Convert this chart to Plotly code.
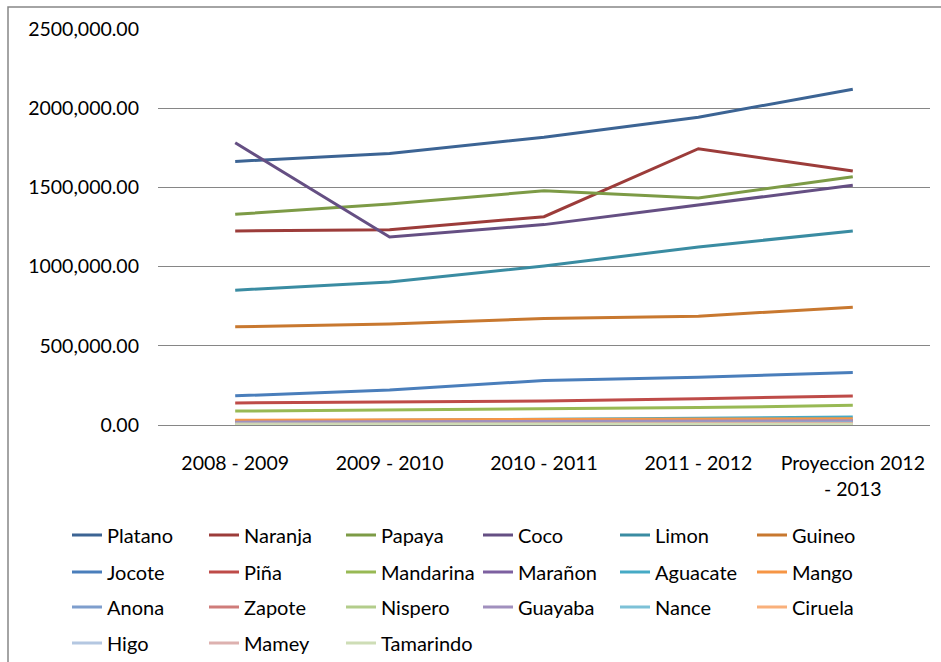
import plotly.graph_objects as go

periods = ["2008 - 2009", "2009 - 2010", "2010 - 2011", "2011 - 2012", "Proyeccion 2012<br>- 2013"]

Platano = [1664000, 1714000, 1817000, 1943000, 2120000]
Naranja = [1225000, 1233000, 1315000, 1744000, 1603000]
Papaya = [1330000, 1395000, 1479000, 1433000, 1567000]
Coco = [1782000, 1187000, 1265000, 1391000, 1513000]
Limon = [851000, 903000, 1004000, 1124000, 1225000]
Guineo = [620000, 637000, 672000, 687000, 744000]
Jocote = [184000, 221000, 281000, 302000, 331000]
Pina = [139000, 145000, 152000, 166000, 183000]
Mandarina = [88000, 95000, 101000, 110000, 124000]
Maranon = [20000, 22000, 24000, 26000, 28000]
Aguacate = [25000, 30000, 35000, 42000, 50000]
Mango = [30000, 32000, 34000, 37000, 40000]
Anona = [10000, 11000, 12000, 13000, 14000]
Zapote = [15000, 16000, 17000, 18000, 20000]
Nispero = [3000, 3000, 4000, 4000, 5000]
Guayaba = [18000, 20000, 22000, 24000, 27000]
Nance = [8000, 9000, 10000, 11000, 12000]
Ciruela = [5000, 6000, 6000, 7000, 8000]
Higo = [1000, 1000, 1000, 1000, 1000]
Mamey = [4000, 4000, 5000, 5000, 6000]
Tamarindo = [2000, 2000, 2000, 3000, 3000]

series_names = ["Platano", "Naranja", "Papaya", "Coco", "Limon", "Guineo",
                "Jocote", "Piña", "Mandarina", "Marañon", "Aguacate", "Mango",
                "Anona", "Zapote", "Nispero", "Guayaba", "Nance", "Ciruela",
                "Higo", "Mamey", "Tamarindo"]
series_values = [Platano, Naranja, Papaya, Coco, Limon, Guineo,
                 Jocote, Pina, Mandarina, Maranon, Aguacate, Mango,
                 Anona, Zapote, Nispero, Guayaba, Nance, Ciruela,
                 Higo, Mamey, Tamarindo]
colors = ["#3C6494", "#9C3C3A", "#7D9B46", "#654F83", "#3A8CA2", "#C8782F",
          "#4A7EBB", "#BE4B48", "#98B954", "#7D60A0", "#46AAC5", "#F69545",
          "#7E9ECD", "#CF7C7A", "#B3CD8B", "#A190BE", "#7DC1D7", "#F9B07B",
          "#B4C7E1", "#DDB1AF", "#CEDDB6"]

tick_vals = [0, 500000, 1000000, 1500000, 2000000, 2500000]
tick_text = ["0.00", "500,000.00", "1000,000.00", "1500,000.00", "2000,000.00", "2500,000.00"]

FONT = "Lato"
FS = 19.5
fig = go.Figure()
legend_ids = ["legend", "legend2", "legend3", "legend4"]
for i, (name, vals) in enumerate(zip(series_names, series_values)):
    fig.add_trace(go.Scatter(
        x=periods, y=vals, name=name, mode="lines",
        line=dict(color=colors[i], width=3),
        legend=legend_ids[i // 6],
    ))

W, H = 941, 662
PL, PR, PT, PB = 158, 930, 29, 425
row_centers = [535, 572, 607, 643]
leg_common = dict(orientation="h", xref="paper", yref="paper",
                  x=(67 - PL) / (PR - PL), xanchor="left", yanchor="middle",
                  entrywidth=92, entrywidthmode="pixels",
                  font=dict(family=FONT, size=20, color="#000000"),
                  bgcolor="rgba(0,0,0,0)", itemwidth=30, tracegroupgap=0)
layout_legends = {}
for k, lid in enumerate(legend_ids):
    layout_legends[lid] = dict(leg_common, y=(PB - row_centers[k]) / (PB - PT))

fig.update_layout(
    width=W, height=H,
    margin=dict(l=PL, r=W - PR, t=PT, b=H - PB, autoexpand=False),
    paper_bgcolor="white", plot_bgcolor="white",
    font=dict(family=FONT, size=FS, color="#000000"),
    showlegend=True,
    xaxis=dict(showgrid=False, showline=True, linecolor="#868686", linewidth=1,
               ticks="", tickfont=dict(family=FONT, size=FS),
               ticklabelstandoff=21, range=[-0.5, 4.5]),
    yaxis=dict(range=[0, 2500000], tickvals=tick_vals, ticktext=tick_text,
               showgrid=True, gridcolor="#868686", gridwidth=1,
               zeroline=False, showline=False, ticks="",
               tickfont=dict(family=FONT, size=FS), ticklabelstandoff=18),
    shapes=[dict(type="rect", xref="paper", yref="paper",
                 x0=(8 - PL) / (PR - PL), x1=1.2, y0=-1.0,
                 y1=1 + (PT - 7) / (PB - PT),
                 line=dict(color="#868686", width=1.5), layer="below")],
    **layout_legends,
)

fig.write_html("out.html", config={"displayModeBar": False},
               post_script="document.body.style.margin='0';")
